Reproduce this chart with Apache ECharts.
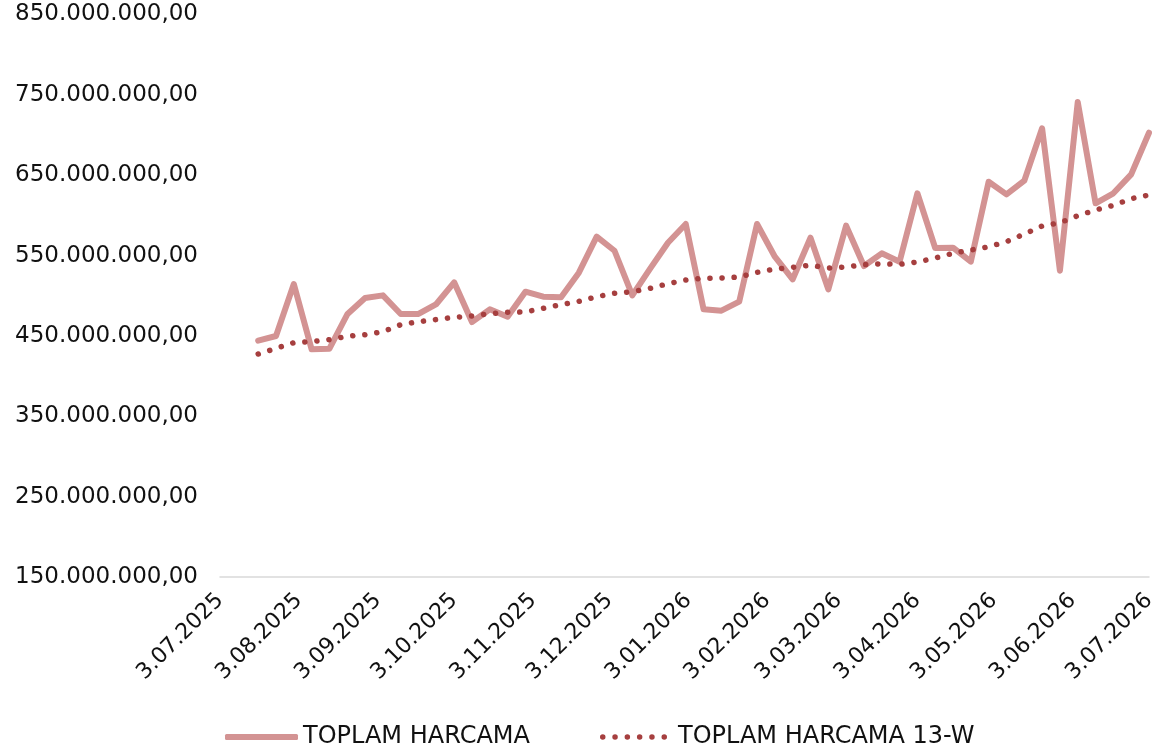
<!DOCTYPE html>
<html>
<head>
<meta charset="utf-8">
<script src="https://cdn.jsdelivr.net/npm/echarts@6/dist/echarts.min.js"></script>
<style>
html,body{margin:0;padding:0;background:#fff;}
#chart{width:1166px;height:751px;}
</style>
</head>
<body>
<div id="chart"></div>
<script>
// Weekly dates
const dates = [
 '2025-07-18','2025-07-25','2025-08-01','2025-08-08','2025-08-15','2025-08-22','2025-08-29',
 '2025-09-05','2025-09-12','2025-09-19','2025-09-26','2025-10-03','2025-10-10','2025-10-17',
 '2025-10-24','2025-10-31','2025-11-07','2025-11-14','2025-11-21','2025-11-28','2025-12-05',
 '2025-12-12','2025-12-19','2025-12-26','2026-01-02','2026-01-09','2026-01-16','2026-01-23',
 '2026-01-30','2026-02-06','2026-02-13','2026-02-20','2026-02-27','2026-03-06','2026-03-13',
 '2026-03-20','2026-03-27','2026-04-03','2026-04-10','2026-04-17','2026-04-24','2026-05-01',
 '2026-05-08','2026-05-15','2026-05-22','2026-05-29','2026-06-05','2026-06-12','2026-06-19',
 '2026-06-26','2026-07-03'
];
const toplamHarcama = [
 444100000,449900000,514600000,433300000,434100000,476900000,497200000,
 500500000,477300000,477300000,489700000,516700000,467300000,483100000,
 473900000,505000000,498800000,498000000,528700000,573500000,556000000,
 500500000,533700000,566000000,589300000,483100000,481400000,492600000,
 589300000,548600000,520500000,572200000,508000000,587200000,537000000,
 552800000,542400000,627500000,559400000,559800000,542400000,641900000,
 626200000,643200000,708400000,531200000,741100000,615000000,627500000,
 651100000,702900000
];
const toplamHarcama13W = [
 427500000,434600000,441600000,443000000,445300000,449700000,451500000,
 455300000,464000000,467700000,470400000,473200000,474800000,477700000,
 479400000,479800000,484400000,488900000,493000000,498800000,503000000,
 505000000,509200000,515000000,519600000,521700000,522100000,523300000,
 529200000,533100000,535400000,538000000,534500000,535800000,538700000,
 539900000,539100000,542000000,547000000,552800000,556900000,561000000,
 567300000,576800000,586800000,590900000,599600000,606700000,612500000,
 620800000,625400000
];
const xAxisStart = '2025-07-03';
const xAxisEnd = '2026-07-03';
const xTickDates = [
 '2025-07-03','2025-08-03','2025-09-03','2025-10-03','2025-11-03','2025-12-03',
 '2026-01-03','2026-02-03','2026-03-03','2026-04-03','2026-05-03','2026-06-03','2026-07-03'
];
const yTickValues = [150000000,250000000,350000000,450000000,550000000,650000000,750000000,850000000];
const seriesNames = ['TOPLAM HARCAMA','TOPLAM HARCAMA 13-W'];

function ts(s){const p=s.split('-').map(Number);return Date.UTC(p[0],p[1]-1,p[2]);}
function fmtNum(v){
  const s=Math.round(v).toString();
  return s.replace(/\B(?=(\d{3})+(?!\d))/g,'.')+',00';
}
function fmtDate(v){
  const d=new Date(v);
  const m=d.getUTCMonth()+1;
  return d.getUTCDate()+'.'+(m<10?'0'+m:m)+'.'+d.getUTCFullYear();
}
// dotted legend icon: six round dots
let dotsPath='path://';
for(let k=0;k<6;k++){
  const cx=2.75+12.3*k;
  dotsPath+='M'+(cx-2.75)+',2.75a2.75,2.75 0 1,0 5.5,0a2.75,2.75 0 1,0 -5.5,0z';
}

const FONT='DejaVu Sans';
const SOLID='#d39393';
const DOT='#a63f3f';
const chart=echarts.init(document.getElementById('chart'),null,{renderer:'canvas'});
chart.setOption({
  animation:false,
  backgroundColor:'#ffffff',
  textStyle:{fontFamily:FONT},
  grid:{left:220,right:17,top:14.5,bottom:174,outerBoundsMode:'none',containLabel:false},
  legend:[
    {data:[{name:seriesNames[0],icon:'roundRect'}],left:220,top:720,itemWidth:73,itemHeight:6,
     textStyle:{fontFamily:FONT,fontSize:24,color:'#111'}},
    {data:[{name:seriesNames[1],icon:dotsPath}],left:595,top:720,itemWidth:67,itemHeight:5.5,
     textStyle:{fontFamily:FONT,fontSize:24,color:'#111',padding:[0,0,0,6]}}
  ],
  xAxis:{
    type:'value',
    min:ts(xAxisStart),max:ts(xAxisEnd),
    splitLine:{show:false},
    axisTick:{show:false},
    axisLine:{show:true,onZero:false,lineStyle:{color:'#d9d9d9',width:1.5}},
    axisLabel:{
      customValues:xTickDates.map(ts),
      rotate:45,margin:20,
      fontFamily:FONT,fontSize:22,color:'#111',
      formatter:function(v){return fmtDate(v);}
    }
  },
  yAxis:{
    type:'value',
    min:150000000,max:850000000,
    splitLine:{show:false},
    axisLine:{show:false},
    axisTick:{show:false},
    axisLabel:{
      customValues:yTickValues,
      margin:22,
      fontFamily:FONT,fontSize:23,color:'#111',
      formatter:function(v){return fmtNum(v);}
    }
  },
  series:[
    {name:seriesNames[0],type:'line',showSymbol:false,symbol:'none',
     data:dates.map((d,i)=>[ts(d),toplamHarcama[i]]),
     lineStyle:{color:SOLID,width:6,cap:'round',join:'round'},
     itemStyle:{color:SOLID}},
    {name:seriesNames[1],type:'line',showSymbol:false,symbol:'none',
     data:dates.map((d,i)=>[ts(d),toplamHarcama13W[i]]),
     lineStyle:{color:DOT,width:5.5,type:[0.1,12],cap:'round'},
     itemStyle:{color:DOT}}
  ]
});
</script>
</body>
</html>
